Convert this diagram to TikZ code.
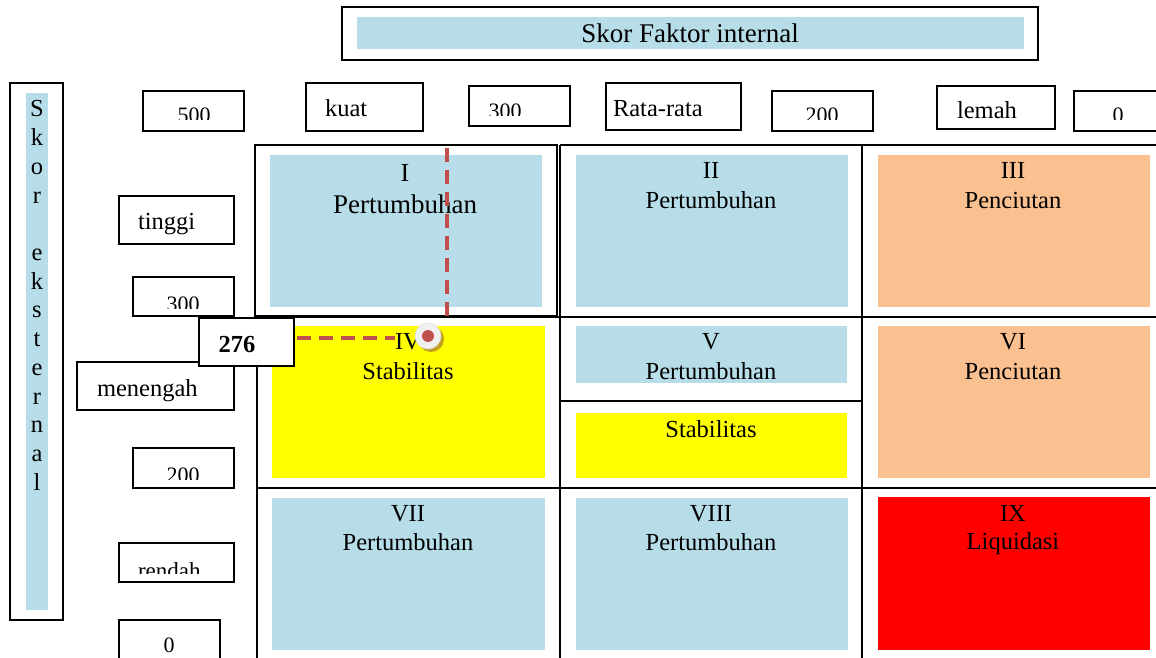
\documentclass[tikz,border=0pt]{standalone}
\usepackage{fontspec}
\setmainfont{Liberation Serif}
\definecolor{lblue}{RGB}{183,221,232}
\definecolor{lorange}{RGB}{250,192,144}
\definecolor{myyellow}{RGB}{255,255,0}
\definecolor{myred}{RGB}{255,0,0}
\definecolor{dred}{RGB}{192,80,77}
\definecolor{shadowgold}{RGB}{196,160,30}
\tikzset{
  frame/.style={draw=black, line width=1.6pt, fill=white, inner sep=0pt, outer sep=0pt, anchor=north west},
  panel/.style={draw=none, inner sep=0pt, outer sep=0pt, anchor=north west},
  txt/.style={inner sep=0pt, outer sep=0pt, anchor=base, font=\fontsize{24.5}{29}\selectfont},
  txtl/.style={txt, anchor=base west},
  numtxt/.style={txt, font=\fontsize{22}{26}\selectfont},
  gridline/.style={line width=1.6pt, draw=black},
  guide/.style={draw=dred, line width=3.8pt, dash pattern=on 14pt off 8pt},
}
\newcommand{\boxat}[5]{\node[frame, minimum width={#4-#2}, minimum height={#5-#3}] (#1) at (#2,#3) {};}
\newcommand{\panelat}[6]{\node[panel, fill=#6, minimum width={#4-#2}, minimum height={#5-#3}] (#1) at (#2,#3) {};}
\begin{document}
\begin{tikzpicture}[x=1pt,y=-1pt]
\useasboundingbox (0,0) rectangle (1156,658);
\fill[white] (0,0) rectangle (1156,658);

% title
\boxat{titlebox}{342}{7}{1038}{60}
\panelat{titlefill}{357}{17}{1024}{49}{lblue}
\node[txt, font=\fontsize{27}{32}\selectfont] (title) at (690,43) {Skor Faktor internal};

% side label
\boxat{sidebox}{10}{83}{63}{620}
\panelat{sidefill}{26}{93}{48}{610}{lblue}
\foreach \c/\i in {S/0,k/1,o/2,r/3,e/5,k/6,s/7,t/8,e/9,r/10,n/11,a/12,l/13}
  \node[txt] (side\i) at (37,{117+28.7*\i}) {\c};

% top scale boxes
\boxat{btop500}{143}{91}{244}{131}
\begin{scope}\clip (143,91) rectangle (244,120);
\node[numtxt] (ttop500) at (194,123) {500};\end{scope}
\boxat{bkuat}{306}{83}{423}{131}
\node[txtl] (tkuat) at (325,117) {kuat};
\boxat{btop300}{469}{86}{570}{126}
\begin{scope}\clip (469,86) rectangle (570,116);
\node[numtxt] (ttop300) at (505,119) {300};\end{scope}
\boxat{brata}{606}{83}{741}{130}
\node[txtl] (trata) at (613,117) {Rata-rata};
\boxat{btop200}{772}{91}{873}{131}
\begin{scope}\clip (772,91) rectangle (873,120);
\node[numtxt] (ttop200) at (822,123) {200};\end{scope}
\boxat{blemah}{937}{86}{1055}{129}
\node[txtl] (tlemah) at (957,119) {lemah};
\boxat{btop0}{1074}{91}{1164}{131}
\begin{scope}\clip (1074,91) rectangle (1164,120);
\node[numtxt] (ttop0) at (1118,123) {0};\end{scope}

% left scale boxes
\boxat{btinggi}{119}{196}{234}{244}
\node[txtl] (ttinggi) at (138,229) {tinggi};
\boxat{bleft300}{133}{277}{234}{316}
\begin{scope}\clip (133,277) rectangle (234,308);
\node[numtxt] (tleft300) at (183,311) {300};\end{scope}
\boxat{bmenengah}{77}{362}{234}{410}
\node[txtl] (tmenengah) at (97,396) {menengah};
\boxat{bleft200}{133}{448}{234}{488}
\begin{scope}\clip (133,448) rectangle (234,479);
\node[numtxt] (tleft200) at (183,482) {200};\end{scope}
\boxat{brendah}{119}{543}{234}{582}
\begin{scope}\clip (119,543) rectangle (234,573);
\node[txtl, font=\fontsize{23}{27}\selectfont] (trendah) at (138,578) {rendah};\end{scope}
\boxat{bleft0}{119}{620}{220}{670}
\node[numtxt] (tleft0) at (169,652) {0};

% grid
\draw[gridline] (255,145) rectangle (557,316);
\draw[gridline] (560,145) -- (1160,145);
\draw[gridline] (560,317) -- (1160,317);
\draw[gridline] (257,317) -- (560,317);
\draw[gridline] (257,488) -- (1160,488);
\draw[gridline] (560,401) -- (862,401);
\draw[gridline] (257,316) -- (257,665);
\draw[gridline] (560,145) -- (560,665);
\draw[gridline] (862,145) -- (862,665);

% cell fills
\panelat{pI}{270}{155}{542}{307}{lblue}
\panelat{pII}{576}{155}{848}{307}{lblue}
\panelat{pIII}{878}{155}{1150}{307}{lorange}
\panelat{pIV}{272}{326}{545}{478}{myyellow}
\panelat{pV}{576}{326}{847}{383}{lblue}
\panelat{pVs}{576}{413}{847}{478}{myyellow}
\panelat{pVI}{878}{326}{1150}{478}{lorange}
\panelat{pVII}{272}{498}{545}{650}{lblue}
\panelat{pVIII}{576}{498}{848}{650}{lblue}
\panelat{pIX}{878}{497}{1150}{650}{myred}

% cell texts
\node[txt, font=\fontsize{26}{30}\selectfont] (nI) at (405,181) {I};
\node[txt, font=\fontsize{27}{32}\selectfont] (sI) at (405,213) {Pertumbuhan};
\node[txt] (nII) at (711,178) {II};
\node[txt] (sII) at (711,208) {Pertumbuhan};
\node[txt] (nIII) at (1013,178) {III};
\node[txt] (sIII) at (1013,208) {Penciutan};
\node[txt] (nIV) at (408,349) {IV};
\node[txt] (sIV) at (408,379) {Stabilitas};
\node[txt] (nV) at (711,349) {V};
\node[txt] (sV) at (711,379) {Pertumbuhan};
\node[txt] (sVs) at (711,437) {Stabilitas};
\node[txt] (nVI) at (1013,349) {VI};
\node[txt] (sVI) at (1013,379) {Penciutan};
\node[txt] (nVII) at (408,521) {VII};
\node[txt] (sVII) at (408,550) {Pertumbuhan};
\node[txt] (nVIII) at (711,521) {VIII};
\node[txt] (sVIII) at (711,550) {Pertumbuhan};
\node[txt] (nIX) at (1013,521) {IX};
\node[txt] (sIX) at (1013,549) {Liquidasi};

% 276 box
\boxat{b276}{199}{318}{294}{366}
\node[txt, font=\fontsize{24.5}{29}\selectfont\bfseries] (t276) at (237,352) {276};

% guide lines
\coordinate (vtop) at (447,148);
\coordinate (vbot) at (447,322);
\coordinate (hend) at (395,338);
\draw[guide] (vtop) -- (vbot);
\draw[guide, shorten <=3pt] (b276.east |- hend) -- (hend);

% marker
\node[circle, fill=shadowgold, minimum size=26pt, inner sep=0pt] (mshadow) at (431,339) {};
\node[circle, fill=white!94!black, draw=black!12, line width=0.6pt, minimum size=26pt, inner sep=0pt] (marker) at (428,336) {};
\node[circle, fill=dred, minimum size=12pt, inner sep=0pt] (mdot) at (428,336) {};
\end{tikzpicture}
\end{document}
